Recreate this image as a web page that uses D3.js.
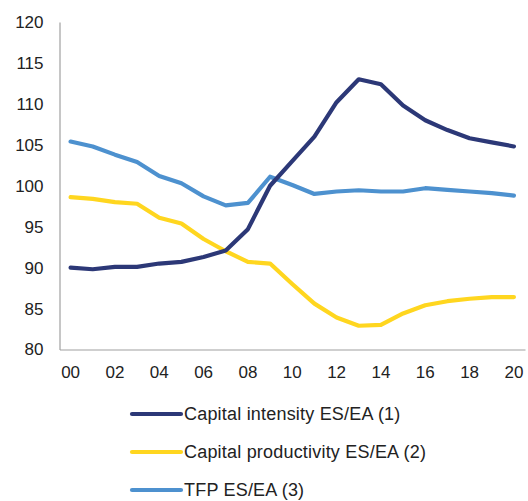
<!DOCTYPE html>
<html>
<head>
<meta charset="utf-8">
<script src="https://cdn.jsdelivr.net/npm/d3@7"></script>
<style>
  html, body { margin: 0; padding: 0; background: #fff; }
  svg { display: block; }
  text { font-family: "Liberation Sans", Arial, sans-serif; fill: #222; }
</style>
</head>
<body>
<svg id="chart" width="528" height="501"></svg>
<script>
const years = ["00","01","02","03","04","05","06","07","08","09","10","11","12","13","14","15","16","17","18","19","20"];
const xTickLabels = ["00","02","04","06","08","10","12","14","16","18","20"];
const yTicks = [80, 85, 90, 95, 100, 105, 110, 115, 120];

const capitalIntensity = [90.0, 89.8, 90.1, 90.1, 90.5, 90.7, 91.3, 92.1, 94.7, 100.0, 103.0, 106.0, 110.2, 113.0, 112.4, 109.8, 108.0, 106.8, 105.8, 105.3, 104.8];
const capitalProductivity = [98.6, 98.4, 98.0, 97.8, 96.1, 95.4, 93.5, 92.0, 90.7, 90.5, 88.0, 85.6, 83.9, 82.9, 83.0, 84.4, 85.4, 85.9, 86.2, 86.4, 86.4];
const tfp = [105.4, 104.8, 103.8, 102.9, 101.2, 100.3, 98.7, 97.6, 97.9, 101.1, 100.1, 99.0, 99.3, 99.45, 99.3, 99.3, 99.7, 99.5, 99.3, 99.1, 98.8];

const seriesNames = ["Capital intensity ES/EA (1)", "Capital productivity ES/EA (2)", "TFP ES/EA (3)"];
const seriesColors = ["#2c3877", "#ffd61f", "#4d91cf"];
const seriesValues = [capitalIntensity, capitalProductivity, tfp];

(function () {
const svg = d3.select("#chart");
const mLeft = 59.5, mRight = 525, mTop = 22, mBottom = 349.5;

const x = d3.scaleBand().domain(years).range([mLeft, mRight]).padding(0);
const y = d3.scaleLinear().domain([80, 120]).range([mBottom, mTop]);

// Y axis
const yAxis = d3.axisLeft(y).tickValues(yTicks).tickSize(0).tickPadding(16);
const gy = svg.append("g").attr("transform", `translate(${mLeft},0)`).call(yAxis);
gy.select(".domain").attr("stroke", "#a0a0a0").attr("stroke-width", 1.2);
gy.selectAll("text").style("font-size", "17px").style("font-family", "Liberation Sans, Arial, sans-serif").attr("fill", "#222");

// X axis
const xAxis = d3.axisBottom(x).tickValues(xTickLabels).tickSize(0).tickPadding(16);
const gx = svg.append("g").attr("transform", `translate(0,${mBottom})`).call(xAxis);
gx.select(".domain").attr("stroke", "#a0a0a0").attr("stroke-width", 1.2);
gx.selectAll("text").style("font-size", "17px").style("font-family", "Liberation Sans, Arial, sans-serif").attr("fill", "#222");

// Lines
const line = d3.line()
  .x((d, i) => x(years[i]) + x.bandwidth() / 2)
  .y(d => y(d));

const order = [2, 1, 0];
order.forEach(k => {
  svg.append("path")
    .datum(seriesValues[k])
    .attr("fill", "none")
    .attr("stroke", seriesColors[k])
    .attr("stroke-width", 4.2)
    .attr("stroke-linejoin", "round")
    .attr("stroke-linecap", "round")
    .attr("d", line);
});

// Legend
const legendY = [414, 452, 490];
seriesNames.forEach((name, i) => {
  const g = svg.append("g").attr("transform", `translate(0,${legendY[i]})`);
  g.append("line")
    .attr("x1", 132).attr("x2", 181)
    .attr("y1", 0).attr("y2", 0)
    .attr("stroke", seriesColors[i])
    .attr("stroke-width", 4.2)
    .attr("stroke-linecap", "round");
  g.append("text")
    .attr("x", 184).attr("y", 0)
    .attr("dy", "0.35em")
    .style("font-size", "18px")
    .style("letter-spacing", "0.2px")
    .text(name);
});
})();
</script>
</body>
</html>
